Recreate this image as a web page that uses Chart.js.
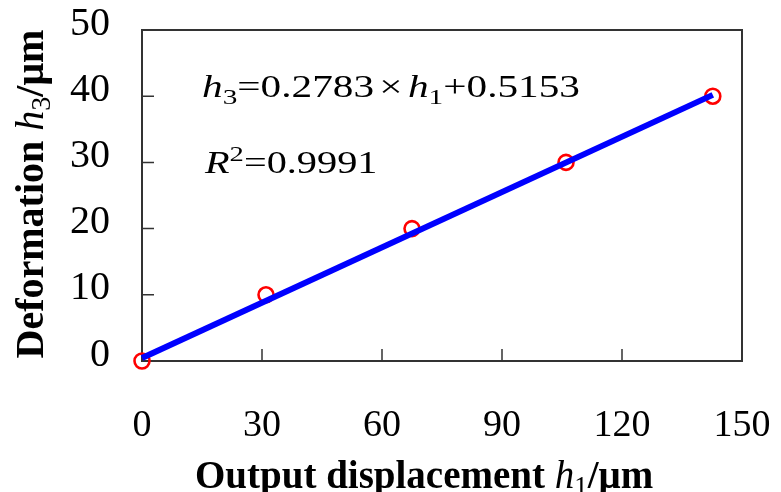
<!DOCTYPE html>
<html>
<head>
<meta charset="utf-8">
<script src="https://cdn.jsdelivr.net/npm/chart.js@4"></script>
<style>
html,body{margin:0;padding:0;background:#fff;}
#wrap{width:781px;height:492px;position:relative;}
</style>
</head>
<body>
<div id="wrap"><canvas id="c" width="781" height="492"></canvas></div>
<script>
// ---- data ----
const dispX = [0, 31, 67.5, 106, 142.7];          // output displacement h1 (μm)
const deformY = [0, 10, 20, 30, 40];              // deformation h3 (μm)
const fitX = [0, 142.7];                          // fitted line endpoints
const fitY = [0.45, 40.2];
const xTicks = [0, 30, 60, 90, 120, 150];
const yTicks = [0, 10, 20, 30, 40, 50];
const xTitle = "Output displacement ";
const yTitle = "Deformation ";
const eqText = ["=0.2783", "+0.5153"];
const r2Text = "=0.9991";

const serif = "'Liberation Serif','Times New Roman',serif";

function drawRich(ctx, x, y, segs) {
  let cx = x;
  for (const s of segs) {
    ctx.font = s.font;
    ctx.fillText(s.t, cx, y + (s.dy || 0));
    cx += ctx.measureText(s.t).width + (s.gap || 0);
  }
  return cx - x;
}
function richWidth(ctx, segs) {
  let w = 0;
  for (const s of segs) { ctx.font = s.font; w += ctx.measureText(s.t).width + (s.gap || 0); }
  return w;
}

const framePlugin = {
  id: 'frame',
  beforeDatasetsDraw(chart) {
    const {ctx, chartArea: a, scales} = chart;
    ctx.save();
    ctx.strokeStyle = '#333';
    ctx.lineWidth = 2;
    ctx.strokeRect(a.left, a.top, a.right - a.left, a.bottom - a.top);
    ctx.beginPath();
    for (const v of xTicks) {
      const px = scales.x.getPixelForValue(v);
      if (px <= a.left + 1 || px >= a.right - 1) continue;
      ctx.moveTo(px, a.bottom); ctx.lineTo(px, a.bottom - 12);
    }
    for (const v of yTicks) {
      const py = scales.y.getPixelForValue(v);
      if (py >= a.bottom - 1 || py <= a.top + 1) continue;
      ctx.moveTo(a.left, py); ctx.lineTo(a.left + 12, py);
    }
    ctx.lineWidth = 1.5;
    ctx.stroke();
    ctx.restore();
  },
  afterDraw(chart) {
    const {ctx} = chart;
    ctx.save();
    ctx.fillStyle = '#000';
    ctx.textBaseline = 'alphabetic';
    ctx.textAlign = 'left';
    // x title
    const xs = [
      {t: xTitle, font: `bold 39px ${serif}`},
      {t: 'h', font: `italic 39px ${serif}`},
      {t: '1', font: `27px ${serif}`, dy: 7},
      {t: '/μm', font: `bold 39px ${serif}`}
    ];
    drawRich(ctx, 195, 488, xs);
    // y title
    const ys = [
      {t: yTitle, font: `bold 40px ${serif}`},
      {t: 'h', font: `italic 40px ${serif}`},
      {t: '3', font: `28px ${serif}`, dy: 7},
      {t: '/μm', font: `bold 40px ${serif}`}
    ];
    const yw = richWidth(ctx, ys);
    ctx.save();
    ctx.translate(43, 194);
    ctx.rotate(-Math.PI / 2);
    drawRich(ctx, -yw / 2, 0, ys);
    ctx.restore();
    // equation
    const eq = [
      {t: 'h', font: `italic 31px ${serif}`},
      {t: '3', font: `22px ${serif}`, dy: 7},
      {t: eqText[0], font: `31px ${serif}`, gap: 4},
      {t: '×', font: `31px ${serif}`, gap: 4},
      {t: 'h', font: `italic 31px ${serif}`},
      {t: '1', font: `22px ${serif}`, dy: 7},
      {t: eqText[1], font: `31px ${serif}`}
    ];
    const ew = richWidth(ctx, eq);
    ctx.save();
    ctx.translate(202, 97);
    ctx.scale(378 / ew, 1);
    drawRich(ctx, 0, 0, eq);
    ctx.restore();
    const r2 = [
      {t: 'R', font: `italic 31px ${serif}`},
      {t: '2', font: `22px ${serif}`, dy: -12},
      {t: r2Text, font: `31px ${serif}`}
    ];
    ctx.save();
    ctx.translate(205, 173);
    ctx.scale(1.3, 1);
    drawRich(ctx, 0, 0, r2);
    ctx.restore();
    ctx.restore();
  }
};

new Chart(document.getElementById('c'), {
  type: 'scatter',
  data: {
    datasets: [
      {
        label: 'Fit',
        data: fitX.map((x, i) => ({x, y: fitY[i]})),
        showLine: true,
        borderColor: '#0000ff',
        backgroundColor: '#0000ff',
        borderWidth: 6,
        pointRadius: 0,
        clip: false
      },
      {
        label: 'Measured',
        data: dispX.map((x, i) => ({x, y: deformY[i]})),
        showLine: false,
        borderColor: '#ff0000',
        backgroundColor: 'rgba(0,0,0,0)',
        borderWidth: 2.6,
        pointRadius: 7.5,
        clip: false
      }
    ]
  },
  options: {
    responsive: false,
    animation: false,
    events: [],
    layout: {padding: {top: 30, right: 39, left: 0, bottom: 0}},
    plugins: {legend: {display: false}, tooltip: {enabled: false}},
    scales: {
      x: {
        type: 'linear', min: 0, max: 150,
        afterBuildTicks(s) { s.ticks = xTicks.map(v => ({value: v})); },
        afterFit(s) { s.height = 131; s.paddingLeft = 0; s.paddingRight = 0; },
        grid: {display: false, drawTicks: false},
        border: {display: false},
        ticks: {color: '#000', font: {family: serif, size: 38}, padding: 42, maxRotation: 0}
      },
      y: {
        type: 'linear', min: 0, max: 50,
        afterBuildTicks(s) { s.ticks = yTicks.map(v => ({value: v})); },
        afterFit(s) { s.width = 142; s.paddingTop = 0; s.paddingBottom = 0; },
        grid: {display: false, drawTicks: false},
        border: {display: false},
        ticks: {color: '#000', font: {family: serif, size: 40}, padding: 32, labelOffset: -6}
      }
    }
  },
  plugins: [framePlugin]
});
</script>
</body>
</html>
